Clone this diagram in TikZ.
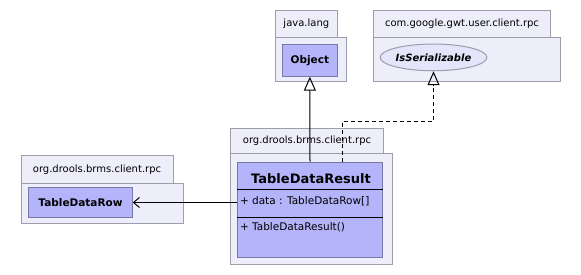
\documentclass[tikz,border=0pt]{standalone}
\usepackage{fontspec}
\setmainfont{DejaVu Sans}
\usetikzlibrary{positioning,arrows.meta,shapes.geometric}

\definecolor{pkgfill}{RGB}{238,238,251}
\definecolor{pkgline}{RGB}{158,158,170}
\definecolor{clsfill}{RGB}{180,180,250}
\definecolor{clsline}{RGB}{120,120,165}
\definecolor{ifcfill}{RGB}{228,228,250}

\begin{document}
\begin{tikzpicture}[
		x=1pt, y=-1pt, line width=1pt,
		pkgtab/.style={rectangle, draw=pkgline, fill=pkgfill, anchor=north west, inner sep=0pt, font=\fontsize{10}{12}\selectfont},
		pkgbody/.style={rectangle, draw=pkgline, fill=pkgfill, anchor=north west, inner sep=0pt},
		umlclass/.style={rectangle, draw=clsline, fill=clsfill, anchor=north west, inner sep=0pt, font=\bfseries\fontsize{10.5}{12}\selectfont},
		iface/.style={ellipse, draw=pkgline, fill=ifcfill, inner sep=0pt, minimum width=105, minimum height=26.7, font=\bfseries\itshape\fontsize{10}{12}\selectfont},
		member/.style={anchor=west, inner sep=0pt, font=\fontsize{10.5}{12}\selectfont},
		inherit/.style={-{Triangle[open, length=14pt, width=12pt]}},
		realize/.style={inherit, dash pattern=on 4pt off 3pt},
		assoc/.style={-{Straight Barb[length=6pt, width=10pt]}}
		]
		\useasboundingbox (0,0) rectangle (581,275);
		
		%==================== Packages ====================%
		\node[pkgtab, minimum width=61.7, minimum height=26.7] (langtab) at (275,10) {java.lang};
		\node[pkgbody, minimum width=71, minimum height=44.3] (langpkg) at (275,36.7) {};
		
		\node[pkgtab, minimum width=177, minimum height=26.7] (rpctab) at (373,10) {com.google.gwt.user.client.rpc};
		\node[pkgbody, minimum width=187, minimum height=44.3] (rpcpkg) at (373,36.7) {};
		
		\node[pkgtab, minimum width=153, minimum height=24.7] (resulttab) at (230,128) {org.drools.brms.client.rpc};
		\node[pkgbody, minimum width=161.7, minimum height=111.3] (resultpkg) at (230,152.7) {};
		
		\node[pkgtab, minimum width=152, minimum height=28.3] (rowtab) at (20.5,155) {org.drools.brms.client.rpc};
		\node[pkgbody, minimum width=162.2, minimum height=40] (rowpkg) at (20.5,183.3) {};
		
		%==================== Classes ====================%
		\node[umlclass, minimum width=54.7, minimum height=31.7] (object) at (282,44) {Object};
		\node[iface] (serial) at (433.5,57.4) {IsSerializable};
		\node[umlclass, minimum width=103.4, minimum height=29.4] (row) at (28.3,187.3) {TableDataRow};
		
		\node[umlclass, minimum width=144.4, minimum height=95] (result) at (237.3,161.7) {};
		\node[font=\bfseries\fontsize{13}{15}\selectfont] (resultname) at (311,178.3) {TableDataResult};
		\draw[black] ([yshift=-27.6pt]result.north west) -- ([yshift=-27.6pt]result.north east);
		\draw[black] ([yshift=-55.6pt]result.north west) -- ([yshift=-55.6pt]result.north east);
		\node[member] (attr) at (239.5,201) {+ data : TableDataRow[]};
		\node[member] (ctor) at (239.5,227.3) {+ TableDataResult()};
		
		%==================== Arrows ====================%
		\draw[inherit] (result.north) -- (object.south);
		\draw[realize] ([xshift=32pt]result.north) -- ++(0,-40) -| (serial.south);
		\draw[assoc] (result.west |- row.east) -- (row.east);
		
	\end{tikzpicture}
\end{document}
